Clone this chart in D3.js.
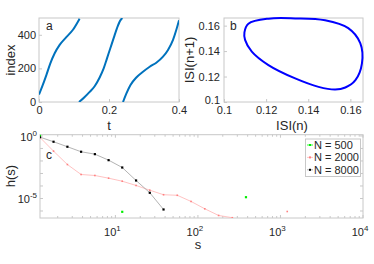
<!DOCTYPE html>
<html>
<head>
<meta charset="utf-8">
<script src="https://cdn.jsdelivr.net/npm/d3@7"></script>
<style>
body { margin: 0; background: #fff; }
text { font-family: "Liberation Sans", Arial, sans-serif; fill: #262626; }
</style>
</head>
<body>
<div id="chart-area"></div>
<script>
var width = 374;
var height = 264;

// panel a: index vs t, three wave fronts
var t1 = [0, 0.0095, 0.021, 0.0324, 0.0448, 0.059, 0.078, 0.097, 0.116];
var i1 = [44, 94, 160, 230, 290, 340, 386, 430, 496];
var t2 = [0.1143, 0.1305, 0.1448, 0.159, 0.1733, 0.1848, 0.1943, 0.2038, 0.2133, 0.2229, 0.2324, 0.2381];
var i2 = [0, 30, 60, 94, 146, 200, 260, 320, 380, 440, 486, 500];
var t3 = [0.24, 0.2495, 0.261, 0.2781, 0.2971, 0.3162, 0.3352, 0.3543, 0.3686, 0.3829, 0.3924, 0.4];
var i3 = [0, 50, 100, 146, 180, 210, 234, 270, 310, 370, 430, 486];

// panel b: return map ISI(n) -> ISI(n+1)
var isiN = [0.1097, 0.1116, 0.1211, 0.1338, 0.148, 0.159, 0.1647, 0.1655, 0.1624, 0.1576, 0.1528, 0.1449, 0.1338, 0.1211, 0.1132, 0.11];
var isiN1 = [0.1547, 0.1615, 0.1655, 0.1657, 0.1642, 0.158, 0.1462, 0.1304, 0.1172, 0.1114, 0.1098, 0.1119, 0.1185, 0.129, 0.1396, 0.1488];

// panel c: h(s) for three network sizes
var sBins = [1.22, 1.78, 2.62, 3.84, 5.64, 8.27, 12.1, 17.8, 26.1, 38.3, 56.2, 82.5, 121, 178, 261, 382, 561, 823, 1208];
var h500 = [1.15, null, null, null, null, null, 8.6e-7, null, null, null, null, null, null, null, null, 1.27e-5, null, null, null];
var h2000 = [0.76, 0.061, 5.2e-3, 8.3e-4, 6.9e-4, 4.2e-4, 2.4e-4, 1.1e-4, 4.6e-5, 2.0e-5, 1.8e-5, 5.8e-6, 1.5e-6, 4.4e-7, 2.9e-7, null, null, null, 9.1e-7];
var h8000 = [0.8, 0.344, 0.137, 0.0545, 0.035, 0.0116, 0.003, 2.75e-4, 2.86e-5, 1.32e-6];
var seriesNames = ["N = 500", "N = 2000", "N = 8000"];

var axisColor = "#c8c8c8";

var svg = d3.select("#chart-area").append("svg")
	.attr("width", width)
	.attr("height", height);

var defs = svg.append("defs");

function box(x0, x1, y0, y1, id) {
	defs.append("clipPath").attr("id", id)
		.append("rect").attr("x", x0).attr("y", y1).attr("width", x1 - x0).attr("height", y0 - y1);
	svg.append("rect")
		.attr("x", x0).attr("y", y1)
		.attr("width", x1 - x0).attr("height", y0 - y1)
		.attr("fill", "none")
		.attr("stroke", axisColor)
		.attr("stroke-width", 1);
}

function styleAxis(g) {
	g.select(".domain").remove();
	g.selectAll(".tick line").attr("stroke", axisColor);
	g.selectAll("text").attr("font-size", "11px").style("fill", "#262626")
		.attr("font-family", "Liberation Sans, Arial, sans-serif");
}

// ---------- panel a ----------
var xa = d3.scaleLinear().domain([0, 0.4]).range([39, 179]);
var ya = d3.scaleLinear().domain([0, 500]).range([102, 18]);
box(39, 179, 102, 18, "clipA");

svg.append("g").attr("transform", "translate(0,102)")
	.call(d3.axisBottom(xa).tickValues([0, 0.2, 0.4]).tickSize(-3).tickPadding(4).tickFormat(d3.format("")))
	.call(styleAxis);
svg.append("g").attr("transform", "translate(39,0)")
	.call(d3.axisLeft(ya).tickValues([0, 200, 400]).tickSize(-3).tickPadding(3))
	.call(styleAxis);

var lineA = d3.line().x(d => xa(d[0])).y(d => ya(d[1])).curve(d3.curveMonotoneX);
[[t1, i1], [t2, i2], [t3, i3]].forEach(function(p) {
	svg.append("path")
		.datum(p[0].map((t, k) => [t, p[1][k]]))
		.attr("clip-path", "url(#clipA)")
		.attr("d", lineA)
		.attr("fill", "none")
		.attr("stroke", "#0072BD")
		.attr("stroke-width", 2);
});
svg.append("text").attr("x", 46).attr("y", 30).attr("font-size", "12px").text("a");
svg.append("text").attr("x", 109).attr("y", 129.5).attr("font-size", "13px").attr("text-anchor", "middle").text("t");
svg.append("text").attr("transform", "translate(15,60) rotate(-90)")
	.attr("font-size", "13px").attr("text-anchor", "middle").text("index");

// ---------- panel b ----------
var xb = d3.scaleLinear().domain([0.1, 0.166]).range([224, 363]);
var yb = d3.scaleLinear().domain([0.1, 0.166]).range([102, 18]);
box(224, 363, 102, 18, "clipB");

var fmtB = d => (d === 0.1 ? "0.1" : d3.format(".2f")(d));
svg.append("g").attr("transform", "translate(0,102)")
	.call(d3.axisBottom(xb).tickValues([0.1, 0.12, 0.14, 0.16]).tickSize(-3).tickPadding(4).tickFormat(fmtB))
	.call(styleAxis);
svg.append("g").attr("transform", "translate(224,0)")
	.call(d3.axisLeft(yb).tickValues([0.1, 0.12, 0.14, 0.16]).tickSize(-3).tickPadding(4).tickFormat(fmtB))
	.call(styleAxis)
	.selectAll(".tick text").attr("dy", d => (d === 0.1 ? "0.1em" : "0.32em"));

svg.append("path")
	.datum(isiN.map((v, k) => [v, isiN1[k]]))
	.attr("d", d3.line().x(d => xb(d[0])).y(d => yb(d[1])).curve(d3.curveCatmullRomClosed))
	.attr("fill", "none")
	.attr("stroke", "#0000ff")
	.attr("stroke-width", 2);
svg.append("text").attr("x", 230).attr("y", 30).attr("font-size", "12px").text("b");
svg.append("text").attr("x", 292).attr("y", 129.5).attr("font-size", "13px").attr("text-anchor", "middle").text("ISI(n)");
svg.append("text").attr("transform", "translate(194,60) rotate(-90)")
	.attr("font-size", "13px").attr("text-anchor", "middle").text("ISI(n+1)");

// ---------- panel c ----------
var xc = d3.scaleLog().domain([1.22, 1e4]).range([40, 363]);
var yc = d3.scaleLog().domain([Math.pow(10, -6.56), Math.pow(10, 0.1)]).range([218, 134.7]);
box(40, 363, 218, 134.7, "clipC");

// minor x ticks (inside, bottom and top)
var minorX = [];
[1, 10, 100, 1000].forEach(function(dec) {
	for (var m = 1; m <= 9; m++) {
		var v = dec * m;
		if (v >= 1.22 && v <= 1e4) minorX.push(v);
	}
});
minorX.push(1e4);
minorX.forEach(function(v) {
	var major = Math.abs(Math.log10(v) - Math.round(Math.log10(v))) < 1e-9;
	var len = major ? 3 : 2;
	svg.append("line").attr("x1", xc(v)).attr("x2", xc(v)).attr("y1", 218).attr("y2", 218 - len).attr("stroke", axisColor);
	svg.append("line").attr("x1", xc(v)).attr("x2", xc(v)).attr("y1", 134.7).attr("y2", 134.7 + len).attr("stroke", axisColor);
});
[-6, -5, -4, -3, -2, -1, 0].forEach(function(e) {
	var y = yc(Math.pow(10, e));
	svg.append("line").attr("x1", 40).attr("x2", 43).attr("y1", y).attr("y2", y).attr("stroke", axisColor);
	svg.append("line").attr("x1", 363).attr("x2", 360).attr("y1", y).attr("y2", y).attr("stroke", axisColor);
});

// tick labels with superscripts
[1, 2, 3, 4].forEach(function(e) {
	var t = svg.append("text").attr("x", xc(Math.pow(10, e)) - 3).attr("y", 236)
		.attr("font-size", "11px").attr("text-anchor", "middle");
	t.append("tspan").text("10");
	t.append("tspan").attr("dy", -5).attr("font-size", "8px").text(e);
});
[0, -5].forEach(function(e) {
	var t = svg.append("text").attr("x", 37).attr("y", yc(Math.pow(10, e)) + 5)
		.attr("font-size", "11px").attr("text-anchor", "end");
	t.append("tspan").text("10");
	t.append("tspan").attr("dy", -5).attr("font-size", "8px").text(e);
});

var gc = svg.append("g").attr("clip-path", "url(#clipC)");
function series(hv, lineColor, markColor, mk) {
	var pts = hv.map((h, k) => [sBins[k], h]);
	gc.append("path")
		.datum(pts)
		.attr("d", d3.line().defined(d => d[1] != null).x(d => xc(d[0])).y(d => yc(d[1])))
		.attr("fill", "none")
		.attr("stroke", lineColor)
		.attr("stroke-width", 0.8);
	gc.selectAll(null)
		.data(pts.filter(d => d[1] != null))
		.enter()
		.append("rect")
			.attr("x", d => xc(d[0]) - mk / 2)
			.attr("y", d => yc(d[1]) - mk / 2)
			.attr("width", mk)
			.attr("height", mk)
			.attr("fill", markColor);
}
series(h2000, "#ffb3b3", "#ff8080", 1.6);
series(h8000, "#a0a0a0", "#000000", 2.2);
series(h500, "#00ff00", "#00ee00", 2.2);

svg.append("text").attr("x", 46).attr("y", 159).attr("font-size", "12px").text("c");
svg.append("text").attr("x", 198).attr("y", 249).attr("font-size", "13px").attr("text-anchor", "middle").text("s");
svg.append("text").attr("transform", "translate(15,176) rotate(-90)")
	.attr("font-size", "13px").attr("text-anchor", "middle").text("h(s)");

// legend
var legend = svg.append("g");
legend.append("rect")
	.attr("x", 305.5).attr("y", 139).attr("width", 55).attr("height", 37.5)
	.attr("fill", "#fff").attr("stroke", "#c8c8c8");
var legColors = [["#00ff00", "#00ee00"], ["#ffb3b3", "#ff8080"], ["#a0a0a0", "#000000"]];
seriesNames.forEach(function(name, k) {
	var y = 145 + k * 12.4;
	legend.append("line").attr("x1", 307).attr("x2", 313).attr("y1", y).attr("y2", y)
		.attr("stroke", legColors[k][0]).attr("stroke-width", 0.8);
	legend.append("rect").attr("x", 309).attr("y", y - 1).attr("width", 2).attr("height", 2).attr("fill", legColors[k][1]);
	legend.append("text").attr("x", 314).attr("y", y + 4).attr("font-size", "11px").text(name);
});
</script>
</body>
</html>
